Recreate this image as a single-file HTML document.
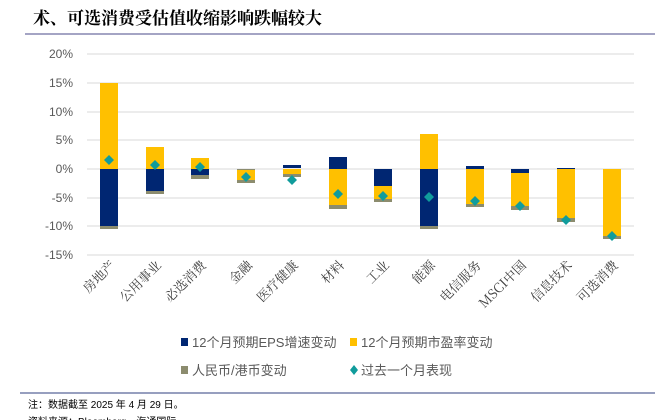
<!DOCTYPE html>
<html><head><meta charset="utf-8"><style>
body{margin:0;width:665px;height:420px;background:#fff;overflow:hidden;font-family:"Liberation Sans","Noto Sans CJK SC",sans-serif}
</style></head><body>
<svg width="665" height="420" xmlns="http://www.w3.org/2000/svg" style="position:absolute;left:0;top:0">
<text x="33" y="24" font-size="17" font-weight="bold" font-family="Noto Serif CJK SC, serif" fill="#000">术、可选消费受估值收缩影响跌幅较大</text>
<line x1="25" y1="34" x2="655" y2="34" stroke="#4a4a8a" stroke-width="1"/>
<g stroke="#d9d9d9" stroke-width="1">
<line x1="87" x2="634" y1="54" y2="54"/><line x1="87" x2="634" y1="83" y2="83"/><line x1="87" x2="634" y1="112" y2="112"/><line x1="87" x2="634" y1="140" y2="140"/><line x1="87" x2="634" y1="169" y2="169"/><line x1="87" x2="634" y1="198" y2="198"/><line x1="87" x2="634" y1="226" y2="226"/><line x1="87" x2="634" y1="255" y2="255"/>
</g>
<g font-size="12" fill="#595959" text-anchor="end">
<text x="73" y="58">20%</text><text x="73" y="87">15%</text><text x="73" y="116">10%</text><text x="73" y="144">5%</text><text x="73" y="173">0%</text><text x="73" y="202">-5%</text><text x="73" y="230">-10%</text><text x="73" y="259">-15%</text>
</g>
<g id="bars">
<!-- x centers -->
<rect x="100" y="83" width="18" height="86" fill="#ffc000"/><rect x="100" y="169" width="18" height="57" fill="#002672"/><rect x="100" y="226" width="18" height="3" fill="#8c8c6e"/>
<rect x="146" y="147" width="18" height="22" fill="#ffc000"/><rect x="146" y="169" width="18" height="22" fill="#002672"/><rect x="146" y="191" width="18" height="3" fill="#8c8c6e"/>
<rect x="191" y="158" width="18" height="11" fill="#ffc000"/><rect x="191" y="169" width="18" height="6" fill="#002672"/><rect x="191" y="175" width="18" height="4" fill="#8c8c6e"/>
<rect x="237" y="169" width="18" height="1" fill="#8c8c6e"/><rect x="237" y="170" width="18" height="10" fill="#ffc000"/><rect x="237" y="180" width="18" height="3" fill="#8c8c6e"/>
<rect x="283" y="165" width="18" height="3" fill="#002672"/><rect x="283" y="169" width="18" height="5" fill="#ffc000"/><rect x="283" y="174" width="18" height="3" fill="#8c8c6e"/>
<rect x="329" y="157" width="18" height="12" fill="#002672"/><rect x="329" y="169" width="18" height="36" fill="#ffc000"/><rect x="329" y="205" width="18" height="4" fill="#8c8c6e"/>
<rect x="374" y="169" width="18" height="17" fill="#002672"/><rect x="374" y="186" width="18" height="13" fill="#ffc000"/><rect x="374" y="199" width="18" height="3" fill="#8c8c6e"/>
<rect x="420" y="134" width="18" height="35" fill="#ffc000"/><rect x="420" y="169" width="18" height="57" fill="#002672"/><rect x="420" y="226" width="18" height="3" fill="#8c8c6e"/>
<rect x="466" y="166" width="18" height="3" fill="#002672"/><rect x="466" y="169" width="18" height="35" fill="#ffc000"/><rect x="466" y="204" width="18" height="3" fill="#8c8c6e"/>
<rect x="511" y="169" width="18" height="4" fill="#002672"/><rect x="511" y="173" width="18" height="33" fill="#ffc000"/><rect x="511" y="206" width="18" height="4" fill="#8c8c6e"/>
<rect x="557" y="168" width="18" height="1" fill="#002672"/><rect x="557" y="169" width="18" height="49" fill="#ffc000"/><rect x="557" y="218" width="18" height="4" fill="#8c8c6e"/>
<rect x="603" y="169" width="18" height="67" fill="#ffc000"/><rect x="603" y="236" width="18" height="3" fill="#8c8c6e"/>
</g>
<g fill="#109c9c">
<path d="M109 155l5 5-5 5-5-5z"/><path d="M155 160l5 5-5 5-5-5z"/><path d="M200 162l5 5-5 5-5-5z"/><path d="M246 172l5 5-5 5-5-5z"/><path d="M292 175l5 5-5 5-5-5z"/><path d="M338 189l5 5-5 5-5-5z"/><path d="M383 191l5 5-5 5-5-5z"/><path d="M429 192l5 5-5 5-5-5z"/><path d="M475 196l5 5-5 5-5-5z"/><path d="M520 201l5 5-5 5-5-5z"/><path d="M566 215l5 5-5 5-5-5z"/><path d="M612 231l5 5-5 5-5-5z"/>
</g>
<g font-size="13" fill="#404040" text-anchor="end" font-family="Noto Serif CJK SC, serif">
<text transform="translate(116,266) rotate(-45)">房地产</text>
<text transform="translate(162,266) rotate(-45)">公用事业</text>
<text transform="translate(207,266) rotate(-45)">必选消费</text>
<text transform="translate(253,266) rotate(-45)">金融</text>
<text transform="translate(299,266) rotate(-45)">医疗健康</text>
<text transform="translate(345,266) rotate(-45)">材料</text>
<text transform="translate(390,266) rotate(-45)">工业</text>
<text transform="translate(436,266) rotate(-45)">能源</text>
<text transform="translate(482,266) rotate(-45)">电信服务</text>
<text transform="translate(527,266) rotate(-45)">MSCI中国</text>
<text transform="translate(573,266) rotate(-45)">信息技术</text>
<text transform="translate(619,266) rotate(-45)">可选消费</text>
</g>
<g font-size="13" fill="#595959">
<rect x="181" y="338" width="7" height="8" fill="#002672"/><text x="192" y="347">12个月预期EPS增速变动</text>
<rect x="350" y="338" width="7" height="8" fill="#ffc000"/><text x="361" y="347">12个月预期市盈率变动</text>
<rect x="181" y="366" width="7" height="8" fill="#8c8c6e"/><text x="192" y="375">人民币/港币变动</text>
<path d="M354 365l4 5-4 5-4-5z" fill="#109c9c"/><text x="361" y="375">过去一个月表现</text>
</g>
<line x1="20" y1="393" x2="655" y2="393" stroke="#2f3f7f" stroke-width="1"/>
<text x="28" y="408" font-size="10" fill="#000">注：数据截至 2025 年 4 月 29 日。</text>
<text x="28" y="425" font-size="10" fill="#000">资料来源：Bloomberg，海通国际</text>
</svg>
</body></html>
